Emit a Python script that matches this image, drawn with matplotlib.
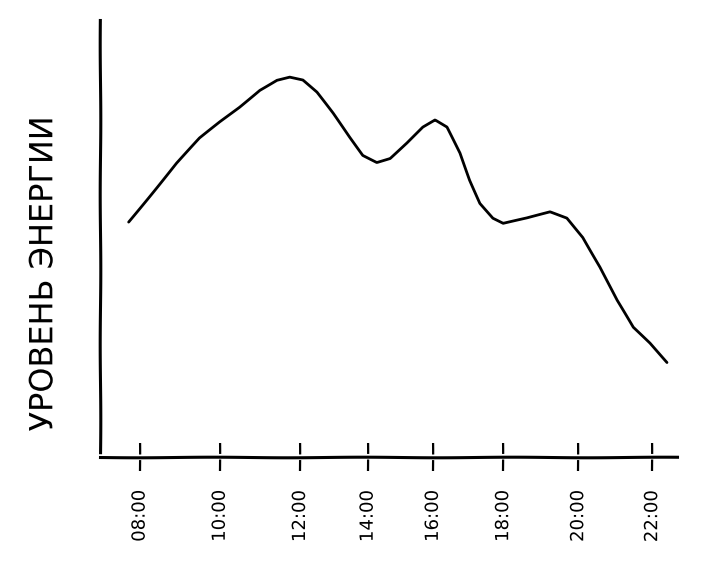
import numpy as np
import matplotlib
matplotlib.use("Agg")
import matplotlib.pyplot as plt

# energy level during the day
hours = [7.70, 8.36, 9.01, 9.64, 10.19, 10.73, 11.28, 11.75, 12.10, 12.46, 12.84,
         13.28, 13.74, 14.10, 14.48, 14.84, 15.30, 15.74, 16.07, 16.39, 16.75,
         17.02, 17.30, 17.65, 17.93, 18.58, 19.21, 19.67, 20.11, 20.58, 21.04,
         21.48, 21.94, 22.41]
energy = [5.38, 6.06, 6.73, 7.30, 7.67, 8.01, 8.40, 8.63, 8.70, 8.63, 8.35,
          7.87, 7.32, 6.91, 6.75, 6.84, 7.19, 7.55, 7.71, 7.55, 6.96,
          6.34, 5.81, 5.47, 5.35, 5.47, 5.61, 5.47, 5.03, 4.35, 3.59,
          2.97, 2.61, 2.17]

tick_pos = [8.0, 10.19, 12.38, 14.23, 16.01, 17.93, 19.98, 22.0]
tick_labels = ["08:00", "10:00", "12:00", "14:00", "16:00", "18:00", "20:00", "22:00"]

with plt.xkcd(scale=0.3, length=150, randomness=1):
    plt.rcParams['font.family'] = ['DejaVu Sans']
    fig = plt.figure(figsize=(7.28, 5.61), dpi=100)
    ax = fig.add_axes([0.137, 0.185, 0.793, 0.779])

    ax.plot(hours, energy, color="black", linewidth=2,
            solid_joinstyle="round", solid_capstyle="round")

    ax.spines["top"].set_visible(False)
    ax.spines["right"].set_visible(False)
    ax.spines["left"].set_linewidth(2.2)
    ax.spines["bottom"].set_linewidth(2.2)

    ax.set_xlim(6.91, 22.68)
    ax.set_ylim(0, 10)
    ax.set_yticks([])
    ax.set_xticks(tick_pos)
    ax.set_xticklabels(tick_labels, rotation=90, fontsize=13)
    ax.tick_params(axis="x", direction="inout", length=20, width=1.6, pad=14)

    ax.set_ylabel("УРОВЕНЬ ЭНЕРГИИ", fontsize=23)
    ax.yaxis.set_label_coords(-0.07, 0.42)

    fig.savefig("out.png", dpi=100)
